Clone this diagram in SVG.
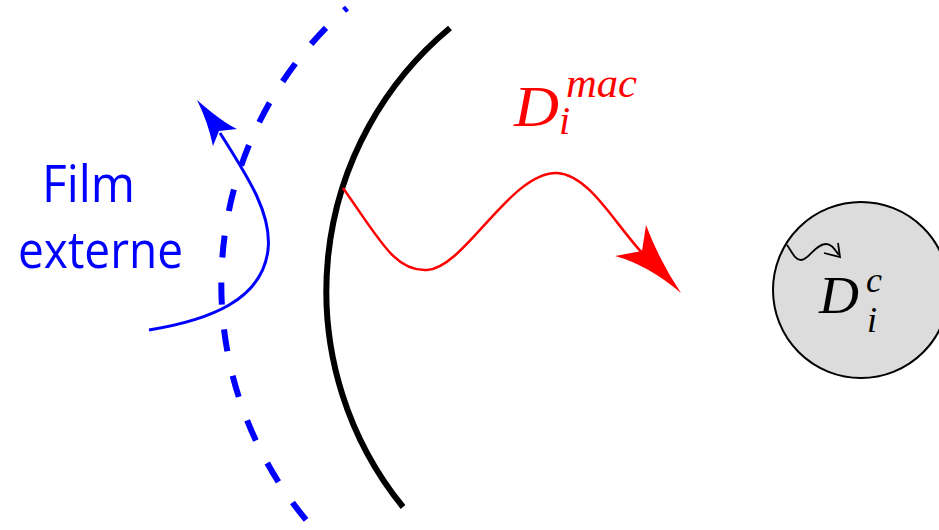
<svg xmlns="http://www.w3.org/2000/svg" width="939" height="530" viewBox="0 0 939 530">
<style>
.math{font-family:"Liberation Serif","DejaVu Serif",serif;font-style:italic}
.lbl{font-family:"Open Sans","Noto Sans",sans-serif;fill:#0000ff;font-size:52px}
</style>
<rect width="939" height="530" fill="#fff"/>
<g id="wall">
<path d="M450,28 A342,342 0 0 0 403,507" fill="none" stroke="#000" stroke-width="6"/>
</g>
<g id="film">
<path d="M347,8 A368,368 0 0 0 313,528" fill="none" stroke="#0000ff" stroke-width="6" stroke-dasharray="22 25" stroke-dashoffset="18"/>
<text class="lbl" x="42" y="202" textLength="93" lengthAdjust="spacingAndGlyphs">Film</text>
<text class="lbl" x="18" y="268" textLength="165" lengthAdjust="spacingAndGlyphs">externe</text>
</g>
<g id="cell">
<circle cx="861" cy="290" r="88" fill="#dcdcdc" stroke="#000" stroke-width="2"/>
<text class="math" x="819" y="313" font-size="53" textLength="40" lengthAdjust="spacingAndGlyphs">D</text>
<text class="math" x="866" y="292" font-size="36">c</text>
<text class="math" x="867" y="332" font-size="36">i</text>
</g>
<g id="macro-label">
<text class="math" x="514" y="126" font-size="57" fill="#ff0000" textLength="45" lengthAdjust="spacingAndGlyphs">D</text>
<text class="math" x="566" y="97" font-size="40" fill="#ff0000" textLength="71" lengthAdjust="spacingAndGlyphs">mac</text>
<text class="math" x="559" y="134" font-size="40" fill="#ff0000">i</text>
</g>
<g id="connectors">
<path d="M149,330 C210,320 262,300 268,250 C272,215 250,180 220,133" fill="none" stroke="#0000ff" stroke-width="3"/>
<path d="M197,100 Q222,122 237,129 L219,131 L213,146 Q208,122 197,100 Z" fill="#0000ff"/>
<path d="M343,188 C380,240 395,272 427,270 C465,268 510,172 557,173 C590,175 615,225 645,256" fill="none" stroke="#ff0000" stroke-width="2.5"/>
<path d="M681,293 Q648,265 615,256 L642,251 L646,225 Q660,262 681,293 Z" fill="#ff0000"/>
<path d="M787,245 C792,252 795,260 801,260 C809,260 815,244 826,244 C832,244 835,250 839,255" fill="none" stroke="#000" stroke-width="1.8"/>
<path d="M824,253 L840,257 L838,243" fill="none" stroke="#000" stroke-width="1.8"/>
</g>
</svg>
